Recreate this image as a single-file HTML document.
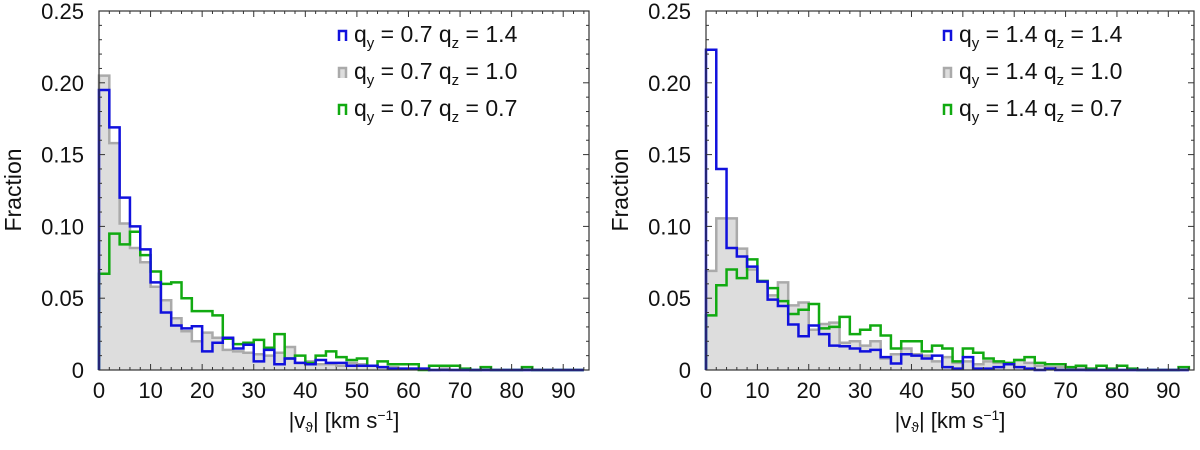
<!DOCTYPE html>
<html><head><meta charset="utf-8"><style>
body{margin:0;background:#fff;width:1200px;height:445px;overflow:hidden}
svg text{font-family:"Liberation Sans","DejaVu Sans",sans-serif;fill:#111}
</style></head><body>
<svg id="c" width="1200" height="445" xmlns="http://www.w3.org/2000/svg"></svg>
<script>
const binWidth = 2;
const xTicks = [0,10,20,30,40,50,60,70,80,90];
const yTicks = [0,0.05,0.10,0.15,0.20,0.25];
const yTickLabels = ["0","0.05","0.10","0.15","0.20","0.25"];
const leftBlue = [0.195,0.169,0.12,0.100,0.084,0.061,0.040,0.031,0.029,0.0305,0.013,0.019,0.0225,0.015,0.0176,0.006,0.014,0.004,0.008,0.005,0.004,0.007,0.005,0.005,0.003,0.003,0.003,0.002,0.001,0.001,0.001,0.001,0,0,0,0,0,0,0,0,0,0,0,0,0,0,0];
const leftGray = [0.205,0.158,0.102,0.085,0.075,0.058,0.0486,0.036,0.027,0.020,0.026,0.0225,0.014,0.013,0.012,0.011,0.010,0.012,0.016,0.005,0.006,0.004,0.004,0.003,0.005,0.004,0.003,0.002,0.002,0.001,0.001,0.001,0,0.001,0,0,0,0,0,0,0,0,0,0,0,0,0];
const leftGreen = [0.067,0.095,0.0875,0.0963,0.080,0.0686,0.060,0.061,0.050,0.041,0.041,0.038,0.0218,0.018,0.019,0.021,0.0155,0.025,0.008,0.010,0.005,0.010,0.013,0.009,0.007,0.008,0.003,0.006,0.004,0.004,0.004,0,0.003,0.003,0.003,0.001,0,0.002,0,0,0,0.002,0,0,0,0,0];
const rightBlue = [0.223,0.140,0.085,0.079,0.072,0.0615,0.049,0.0446,0.0317,0.0235,0.031,0.025,0.017,0.0165,0.015,0.013,0.014,0.009,0.0045,0.011,0.010,0.008,0.010,0.002,0.001,0.009,0.001,0.001,0.002,0.004,0.002,0.001,0,0.001,0,0,0,0,0,0,0,0,0,0,0,0,0];
const rightGray = [0.069,0.1056,0.1056,0.0845,0.070,0.062,0.052,0.061,0.045,0.047,0.028,0.032,0.033,0.019,0.020,0.017,0.020,0.008,0.011,0.015,0.011,0.010,0.006,0.009,0.005,0.006,0.004,0.006,0.005,0.004,0.007,0.005,0.003,0.002,0.002,0.001,0.001,0,0,0,0,0,0,0,0,0,0];
const rightGreen = [0.038,0.059,0.070,0.064,0.077,0.062,0.057,0.048,0.039,0.042,0.046,0.029,0.030,0.037,0.025,0.028,0.031,0.024,0.015,0.020,0.020,0.013,0.017,0.015,0.006,0.015,0.012,0.008,0.006,0.005,0.007,0.009,0.005,0.004,0.004,0.002,0.003,0.001,0.003,0.001,0.003,0.001,0,0,0,0,0.002];
const leftLabels = ["0.7","1.4","0.7","1.0","0.7","0.7"];
const rightLabels = ["1.4","1.4","1.4","1.0","1.4","0.7"];

const svg=document.getElementById('c');
const NS='http://www.w3.org/2000/svg';
function mk(tag,attrs,parent){const e=document.createElementNS(NS,tag);for(const k in attrs)e.setAttribute(k,attrs[k]);(parent||svg).appendChild(e);return e;}

function panel(px0,px1,series,labels,prefix){
  const g=mk('g',{});
  
  
  const top=11,bot=370,xmax=95,ymax=0.25;
  const X=v=>px0+(px1-px0)*v/xmax;
  const Y=v=>bot-(bot-top)*v/ymax;
  const cols=[{c:'#aaaaaa',fill:'#dddddd',n:'gray'},{c:'#11aa11',fill:'none',n:'green'},{c:'#1111dd',fill:'none',n:'blue'}];
  [0,1,2].forEach(ci=>{
    const data=series[ci];
    let d='M'+X(0)+','+Y(0);
    data.forEach((v,i)=>{d+=' L'+X(i*binWidth)+','+Y(v)+' L'+X((i+1)*binWidth)+','+Y(v);});
    d+=' L'+X(data.length*binWidth)+','+Y(0);
    const p=mk('path',{d:d,fill:cols[ci].fill,stroke:cols[ci].c,'stroke-width':2.5},g);
    
    
  });
  const fr=mk('rect',{x:px0,y:top,width:px1-px0,height:bot-top,fill:'none',stroke:'#333','stroke-width':1.2},g);
  
  
  for(let v=0;v<=xmax;v+=2){const len=v%10===0?6:3;mk('line',{x1:X(v),x2:X(v),y1:bot,y2:bot-len,stroke:'#333','stroke-width':1},g);mk('line',{x1:X(v),x2:X(v),y1:top,y2:top+len,stroke:'#333','stroke-width':1},g);}
  for(let k=0;k<=25;k++){const v=k*0.01;const len=k%5===0?6:3;mk('line',{x1:px0,x2:px0+len,y1:Y(v),y2:Y(v),stroke:'#333','stroke-width':1},g);mk('line',{x1:px1,x2:px1-len,y1:Y(v),y2:Y(v),stroke:'#333','stroke-width':1},g);}
  xTicks.forEach(v=>{const t=mk('text',{x:X(v),y:bot+28,'text-anchor':'middle','font-size':22},g);t.textContent=v;});
  yTicks.forEach((v,i)=>{const t=mk('text',{x:px0-15,y:Y(v)+8,'text-anchor':'end','font-size':22},g);t.textContent=yTickLabels[i];});
  const xt=mk('text',{x:(px0+px1)/2,y:428,'text-anchor':'middle','font-size':22},g);
  xt.innerHTML='|v<tspan font-size="14" dy="4">ϑ</tspan><tspan dy="-4">| [km s</tspan><tspan font-size="14" dy="-8">−1</tspan><tspan dy="8">]</tspan>';
  
  
  const yt=mk('text',{x:0,y:0,'text-anchor':'middle','font-size':23,transform:'translate('+(px0-78)+',190) rotate(-90)'},g);
  yt.textContent='Fraction';
  
  
  const legCols=['#1111dd','#aaaaaa','#11aa11'];
  for(let r=0;r<3;r++){
    const ly=38+r*37;
    const lg=mk('g',{},g);
    
    
    mk('path',{d:'M'+(px1-250)+','+(ly+3)+' v-10 h7 v10',fill:r===1?'#ddd':'none',stroke:legCols[r],'stroke-width':2.5},lg);
    const t=mk('text',{x:px1-235,y:ly+4,'font-size':23},lg);
    t.innerHTML='q<tspan font-size="15" dy="6">y</tspan><tspan dy="-6"> = '+labels[r*2]+'  q</tspan><tspan font-size="15" dy="6">z</tspan><tspan dy="-6"> = '+labels[r*2+1]+'</tspan>';
  }
}
panel(99,589,[leftGray,leftGreen,leftBlue],leftLabels,'left');
panel(706,1194,[rightGray,rightGreen,rightBlue],rightLabels,'right');
</script>
</body></html>
